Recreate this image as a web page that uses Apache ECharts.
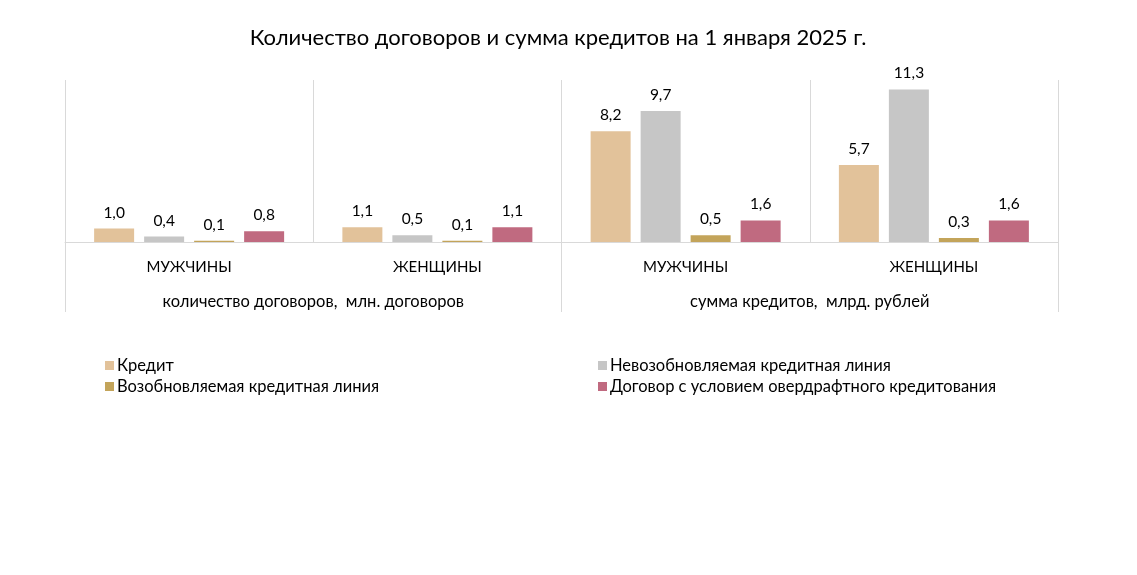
<!DOCTYPE html>
<html>
<head>
<meta charset="utf-8">
<script src="https://cdn.jsdelivr.net/npm/echarts@6/dist/echarts.min.js"></script>
<style>html,body{margin:0;padding:0;background:#fff}#c{width:1137px;height:575px}</style>
</head>
<body>
<div id="c"></div>
<script>
const categories = ['МУЖЧИНЫ', 'ЖЕНЩИНЫ', 'МУЖЧИНЫ', 'ЖЕНЩИНЫ'];
const groups = ['количество договоров,  млн. договоров', 'сумма кредитов,  млрд. рублей'];
const seriesNames = ['Кредит', 'Невозобновляемая кредитная линия', 'Возобновляемая кредитная линия', 'Договор с условием овердрафтного кредитования'];
const credit = [1.0, 1.1, 8.2, 5.7];
const nonRevolving = [0.4, 0.5, 9.7, 11.3];
const revolving = [0.1, 0.1, 0.5, 0.3];
const overdraft = [0.8, 1.1, 1.6, 1.6];
const colors = ['#E2C29A', '#C6C6C6', '#C3A45A', '#C06A80'];

const FONT = 'Lato';
const chart = echarts.init(document.getElementById('c'));
const values = [credit, nonRevolving, revolving, overdraft];
chart.setOption({
  animation: false,
  textStyle: { fontFamily: FONT },
  title: {
    text: 'Количество договоров и сумма кредитов на 1 января 2025 г.',
    left: 553, top: 22, textAlign: 'center',
    textStyle: { fontFamily: FONT, fontSize: 22, fontWeight: 'normal', color: '#000' }
  },
  legend: [
    { left: 100, top: 352, orient: 'vertical', icon: 'rect', itemWidth: 9, itemHeight: 9, itemGap: 4,
      data: [seriesNames[0], seriesNames[2]], textStyle: { fontFamily: FONT, fontSize: 16.5, color: '#000', padding: [0,0,0,-2] } },
    { left: 593, top: 352, orient: 'vertical', icon: 'rect', itemWidth: 9, itemHeight: 9, itemGap: 4,
      data: [seriesNames[1], seriesNames[3]], textStyle: { fontFamily: FONT, fontSize: 16.5, color: '#000', padding: [0,0,0,-2] } }
  ],
  grid: { left: 65, right: 79, top: 80, bottom: 333 },
  xAxis: [
    { type: 'category', data: categories,
      axisLine: { lineStyle: { color: '#D9D9D9', width: 1 } },
      axisTick: { show: false },
      splitLine: { show: true, lineStyle: { color: '#D9D9D9', width: 1 } },
      axisLabel: { fontFamily: FONT, fontSize: 15, color: '#000', margin: 18 } },
    { type: 'category', data: groups, position: 'bottom',
      axisLine: { show: false },
      axisTick: { show: true, length: 70, lineStyle: { color: '#D9D9D9' } },
      axisLabel: { fontFamily: FONT, fontSize: 16.5, color: '#000', margin: 51 } }
  ],
  yAxis: { type: 'value', min: 0, max: 12, show: false, splitLine: { show: false } },
  series: values.map((v, i) => ({
    name: seriesNames[i], type: 'bar', data: v, barWidth: 40, barGap: '25%',
    itemStyle: { color: colors[i] },
    label: { show: true, position: 'top', distance: 8, fontFamily: FONT, fontSize: 15.5, color: '#000',
      formatter: p => p.value.toFixed(1).replace('.', ',') }
  }))
});
</script>
</body>
</html>
